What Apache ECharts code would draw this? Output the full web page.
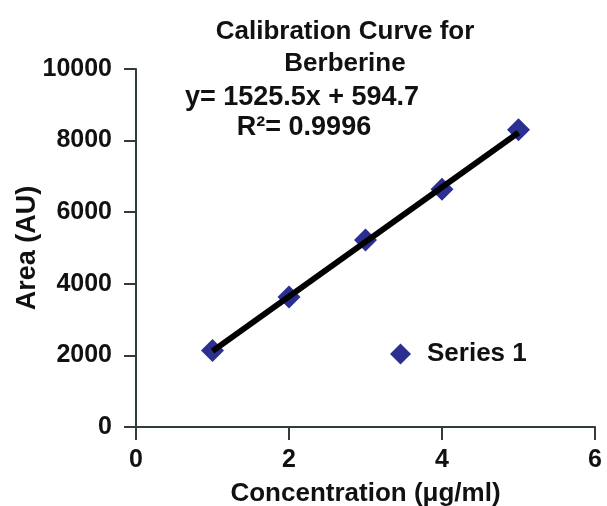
<!DOCTYPE html>
<html>
<head>
<meta charset="utf-8">
<script src="https://cdn.jsdelivr.net/npm/echarts@6/dist/echarts.min.js"></script>
<style>html,body{margin:0;padding:0;background:#fff;}#c{width:607px;height:506px;}</style>
</head>
<body>
<div id="c"></div>
<script>
const concentration = [1, 2, 3, 4, 5];
const area = [2140, 3630, 5220, 6640, 8300];
const trendX = [1, 5];
const trendY = [2120.2, 8222.2];
const xTicks = [0, 2, 4, 6];
const yTicks = [0, 2000, 4000, 6000, 8000, 10000];
const titleLines = ['Calibration Curve for', 'Berberine'];
const equationText = 'y= 1525.5x + 594.7';
const r2Text = 'R²= 0.9996';

const FONT = '"Liberation Sans", Arial, Helvetica, sans-serif';
const chart = echarts.init(document.getElementById('c'), null, {renderer: 'canvas'});
const axisColor = '#2f3d3d';
chart.setOption({
  animation: false,
  backgroundColor: '#ffffff',
  title: {
    text: titleLines.join('\n'),
    left: 340, top: 11, textAlign: 'center',
    textStyle: {fontFamily: FONT, fontSize: 26, fontWeight: 'bold', color: '#111', lineHeight: 32}
  },
  graphic: [
    {type: 'text', x: 302, y: 84, style: {text: equationText, font: 'bold 27px ' + FONT, fill: '#111', align: 'center'}},
    {type: 'text', x: 304, y: 114, style: {text: r2Text, font: 'bold 27px ' + FONT, fill: '#111', align: 'center'}}
  ],
  legend: {
    data: [{name: 'Series 1', icon: 'diamond'}],
    left: 390, top: 341, padding: 0, itemWidth: 21, itemHeight: 21, itemGap: 12,
    textStyle: {fontFamily: FONT, fontSize: 26, fontWeight: 'bold', color: '#111', padding: [0, 0, 0, 11]}
  },
  grid: {left: 136, right: 12, top: 69, bottom: 79, containLabel: false, outerBoundsMode: 'none'},
  xAxis: {
    type: 'value', min: 0, max: 6, interval: 2,
    name: 'Concentration (μg/ml)', nameLocation: 'middle', nameGap: 54, nameMoveOverlap: false,
    nameTextStyle: {fontFamily: FONT, fontSize: 26, fontWeight: 'bold', color: '#111'},
    axisLine: {show: true, lineStyle: {color: axisColor, width: 2}},
    axisTick: {show: true, inside: false, length: 13, lineStyle: {color: axisColor, width: 2}},
    axisLabel: {margin: 21, fontFamily: FONT, fontSize: 25, fontWeight: 'bold', color: '#111',
      formatter: v => xTicks.includes(v) ? String(v) : ''},
    splitLine: {show: false}
  },
  yAxis: {
    type: 'value', min: 0, max: 10000, interval: 2000,
    name: 'Area (AU)', nameLocation: 'middle', nameGap: 95, nameRotate: 90, nameMoveOverlap: false,
    nameTextStyle: {fontFamily: FONT, fontSize: 27, fontWeight: 'bold', color: '#111'},
    axisLine: {show: true, lineStyle: {color: axisColor, width: 2}},
    axisTick: {show: true, inside: false, length: 12, lineStyle: {color: axisColor, width: 2}},
    axisLabel: {margin: 24, fontFamily: FONT, fontSize: 25, fontWeight: 'bold', color: '#111',
      formatter: v => yTicks.includes(v) ? String(v) : ''},
    splitLine: {show: false}
  },
  series: [
    {
      name: 'Series 1', type: 'scatter', symbol: 'diamond', symbolSize: 23,
      itemStyle: {color: '#2b2f8f', opacity: 1},
      data: concentration.map((x, i) => [x, area[i]]), z: 2
    },
    {
      name: 'Trend', type: 'line', symbol: 'none', z: 3,
      lineStyle: {color: '#000', width: 6},
      data: trendX.map((x, i) => [x, trendY[i]])
    }
  ]
});
</script>
</body>
</html>
